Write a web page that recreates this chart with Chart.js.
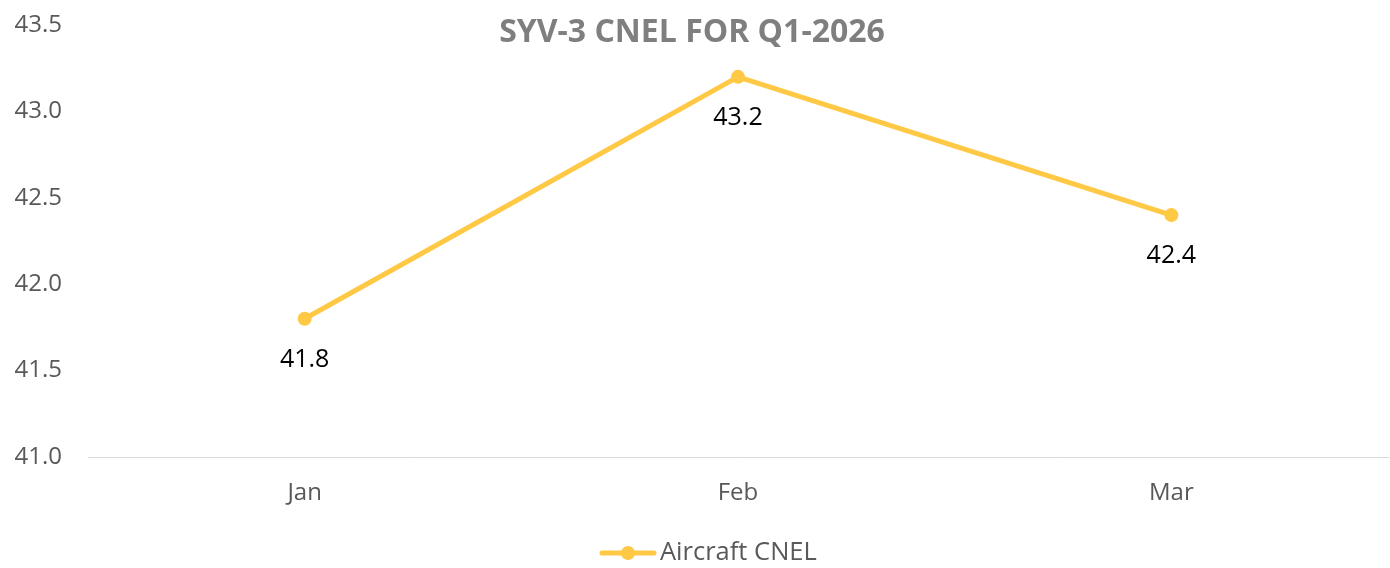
<!DOCTYPE html>
<html>
<head>
<meta charset="utf-8">
<script src="https://cdn.jsdelivr.net/npm/chart.js@4"></script>
<style>
html,body{margin:0;padding:0;background:#fff;}
#wrap{width:1390px;height:568px;position:relative;}
</style>
</head>
<body>
<div id="wrap"><canvas id="c" width="1390" height="568"></canvas></div>
<script>
const categories = ["Jan", "Feb", "Mar"];
const cnelValues = [41.8, 43.2, 42.4];
const seriesName = "Aircraft CNEL";
const chartTitle = "SYV-3 CNEL FOR Q1-2026";
const yMin = 41.0, yMax = 43.5, yStep = 0.5;

const FONT = "'Open Sans', 'Liberation Sans', sans-serif";
const LINE = "#FFC845";

const overlay = {
  id: "overlay",
  afterDatasetsDraw(chart) {
    const ctx = chart.ctx;
    const meta = chart.getDatasetMeta(0);
    ctx.save();
    ctx.fillStyle = "#000";
    ctx.font = "25px " + FONT;
    ctx.textAlign = "center";
    ctx.textBaseline = "middle";
    meta.data.forEach((pt, i) => {
      ctx.fillText(cnelValues[i].toFixed(1), pt.x, pt.y + 41);
    });
    // title
    ctx.fillStyle = "#7F7F7F";
    ctx.font = "bold 32px " + FONT;
    ctx.fillText(chartTitle, 692, 33);
    // legend
    const ly = 553;
    ctx.strokeStyle = LINE;
    ctx.lineWidth = 5;
    ctx.lineCap = "round";
    ctx.beginPath();
    ctx.moveTo(602, ly);
    ctx.lineTo(654, ly);
    ctx.stroke();
    ctx.fillStyle = LINE;
    ctx.beginPath();
    ctx.arc(628, ly, 7, 0, Math.PI * 2);
    ctx.fill();
    ctx.fillStyle = "#595959";
    ctx.font = "25.5px " + FONT;
    ctx.textAlign = "left";
    ctx.fillText(seriesName, 660, ly);
    ctx.restore();
  }
};

new Chart(document.getElementById("c"), {
  type: "line",
  data: {
    labels: categories,
    datasets: [{
      label: seriesName,
      data: cnelValues,
      borderColor: LINE,
      backgroundColor: LINE,
      borderWidth: 5,
      pointRadius: 7,
      pointHoverRadius: 7,
      pointBackgroundColor: LINE,
      pointBorderWidth: 0,
      tension: 0,
      borderCapStyle: "round",
      borderJoinStyle: "round"
    }]
  },
  options: {
    responsive: false,
    animation: false,
    events: [],
    layout: { autoPadding: false, padding: { top: 25, right: 2, left: 0, bottom: 0 } },
    plugins: { legend: { display: false }, title: { display: false }, tooltip: { enabled: false } },
    scales: {
      x: {
        offset: true,
        grid: { display: false, drawTicks: false },
        border: { display: true, color: "#D9D9D9", width: 1 },
        ticks: { color: "#595959", font: { family: FONT, size: 24 }, padding: 22 },
        afterFit(s) { s.height = 111; s.paddingLeft = 0; s.paddingRight = 0; }
      },
      y: {
        min: yMin, max: yMax,
        grid: { display: false, drawTicks: false },
        border: { display: false },
        ticks: {
          stepSize: yStep,
          color: "#595959",
          font: { family: FONT, size: 24 },
          padding: 26,
          callback: v => Number(v).toFixed(1)
        },
        afterFit(s) { s.width = 88; s.paddingTop = 0; s.paddingBottom = 0; }
      }
    }
  },
  plugins: [overlay]
});
</script>
</body>
</html>
